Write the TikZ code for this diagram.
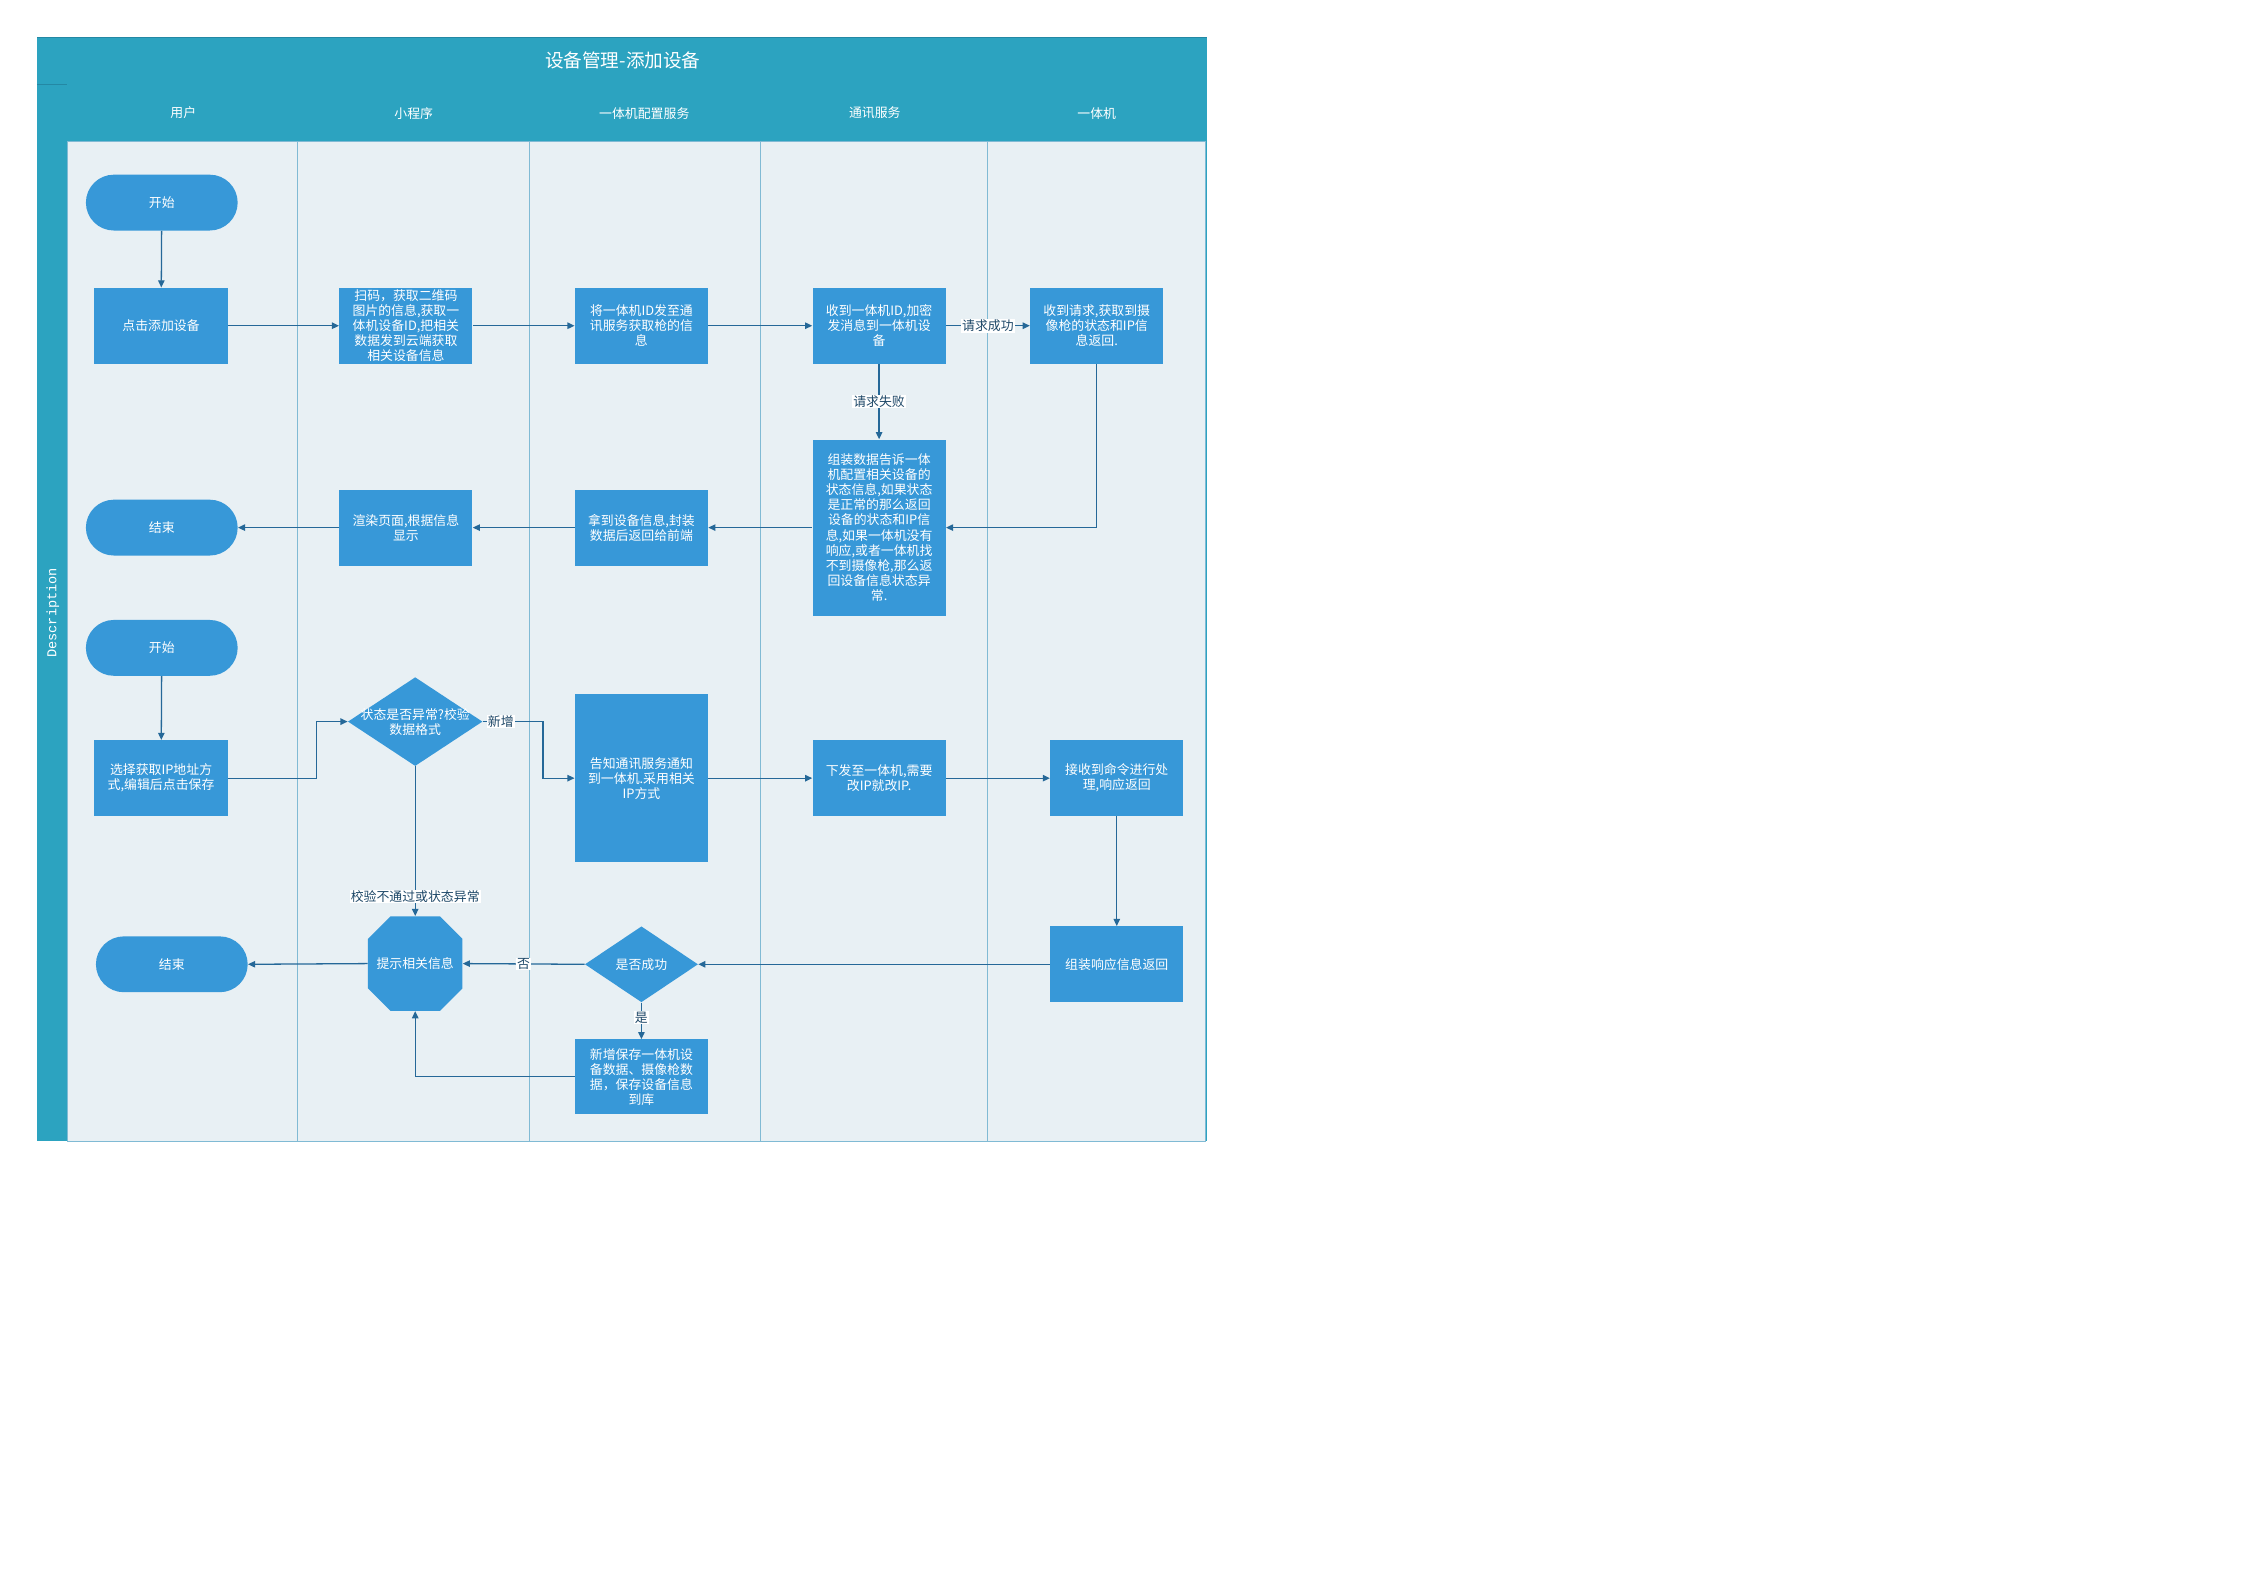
\documentclass[tikz,border=0pt]{standalone}
\usepackage{fontspec}
\setmainfont{Noto Sans CJK SC}
\newfontfamily\descfont{Liberation Mono}
\usepackage{tikz}
\usetikzlibrary{calc, positioning, arrows.meta, shapes.geometric, shapes.misc}
\definecolor{LaneTeal}{RGB}{44,163,192}
\definecolor{LaneEdge}{RGB}{36,136,164}
\definecolor{LaneBack}{RGB}{232,240,244}
\definecolor{LaneLine}{RGB}{128,186,212}
\definecolor{BoxBlue}{RGB}{55,152,216}
\definecolor{FlowInk}{RGB}{37,104,152}
\definecolor{LabelInk}{RGB}{30,72,104}

\begin{document}
\begin{tikzpicture}[
  x=1pt, y=-1pt,
  font=\fontsize{9}{10.5}\selectfont,
  box/.style={fill=BoxBlue, text=white, align=center, minimum width=93pt,
    minimum height=53pt, inner sep=1pt},
  terminal/.style={fill=BoxBlue, text=white, rounded corners=19.5pt,
    minimum width=106pt, minimum height=39pt},
  decision/.style={diamond, fill=BoxBlue, inner sep=0pt},
  notice/.style={chamfered rectangle, fill=BoxBlue, text=white, inner sep=0pt,
    chamfered rectangle xsep=11.5pt, chamfered rectangle ysep=11.5pt,
    minimum width=66pt, minimum height=66pt},
  lanehead/.style={text=white},
  edgelabel/.style={fill=white, text=LabelInk, inner sep=0.6pt},
  flow/.style={draw=FlowInk, line width=0.9pt, -{Triangle[length=5pt,width=4.5pt]}}
]
\useasboundingbox[fill=white] (0,0) rectangle (1568,1108);

\fill[LaneTeal] (26,26) rectangle (843,797);
\draw[LaneEdge, line width=0.8pt] (26,26) -- (843,26);
\draw[LaneEdge, line width=0.6pt] (26,59) -- (47,59);
\fill[LaneBack] (47,99) rectangle (842,797);
\foreach \x in {208,370,531,690}
  \draw[LaneLine, line width=0.7pt] (\x,99) -- (\x,797);
\draw[LaneLine, line width=0.7pt] (47,99) rectangle (842,797);

\node[lanehead, font=\fontsize{13}{13}\selectfont] (title) at (435,42) {设备管理-添加设备};
\node[lanehead] (hduser) at (128,79) {用户};
\node[lanehead] (hdapp) at (289,79) {小程序};
\node[lanehead] (hdconf) at (450,79) {一体机配置服务};
\node[lanehead] (hdcomm) at (611,79) {通讯服务};
\node[lanehead] (hddev) at (766,79) {一体机};
\node[lanehead, rotate=90, font=\descfont\fontsize{9.5}{10}\selectfont] (desc) at (37,428) {Description};

\node[terminal] (startA) at (113,141.5) {开始};
\node[box] (add) at (112.5,227.5) {点击添加设备};
\node[box] (scan) at (283.5,227.5) {扫码，获取二维码\\图片的信息,获取一\\体机设备ID,把相关\\数据发到云端获取\\相关设备信息};
\node[box] (send) at (448,227.5) {将一体机ID发至通\\讯服务获取枪的信\\息};
\node[box] (recv) at (614,227.5) {收到一体机ID,加密\\发消息到一体机设\\备};
\node[box] (req) at (766,227.5) {收到请求,获取到摄\\像枪的状态和IP信\\息返回.};
\node[box, minimum height=123pt] (pack) at (614,368.5) {组装数据告诉一体\\机配置相关设备的\\状态信息,如果状态\\是正常的那么返回\\设备的状态和IP信\\息,如果一体机没有\\响应,或者一体机找\\不到摄像枪,那么返\\回设备信息状态异\\常.};
\node[box] (got) at (448,368.5) {拿到设备信息,封装\\数据后返回给前端};
\node[box] (render) at (283.5,368.5) {渲染页面,根据信息\\显示};
\node[terminal] (endA) at (113,368.5) {结束};

\node[terminal] (startB) at (113,452.5) {开始};
\node[box] (pick) at (112.5,543.5) {选择获取IP地址方\\式,编辑后点击保存};
\node[decision, minimum width=94pt, minimum height=62pt,
  label={[text=white, align=center]center:状态是否异常?校验\\数据格式}] (check) at (290,504) {};
\node[box, minimum height=117pt] (notify) at (448,543.5) {告知通讯服务通知\\到一体机.采用相关\\IP方式};
\node[box] (issue) at (614,543.5) {下发至一体机,需要\\改IP就改IP.};
\node[box] (exec) at (780,543.5) {接收到命令进行处\\理,响应返回};
\node[box] (resp) at (780,673.5) {组装响应信息返回};
\node[decision, minimum width=79pt, minimum height=53pt,
  label={[text=white]center:是否成功}] (ok) at (448,673.5) {};
\node[notice] (tip) at (290,673) {提示相关信息};
\node[terminal] (endB) at (120,673.5) {结束};
\node[box, minimum height=52pt] (save) at (448,752) {新增保存一体机设\\备数据、摄像枪数\\据，保存设备信息\\到库};

\draw[flow] (startA) -- (add);
\draw[flow] (add) -- (scan);
\draw[flow] (scan) -- (send);
\draw[flow] (send) -- (recv);
\draw[flow] (recv) -- node[edgelabel] {请求成功} (req);
\draw[flow] (recv) -- node[edgelabel] {请求失败} (pack);
\draw[flow] (req.south) |- (pack.east);
\draw[flow] (pack.west |- got) -- (got);
\draw[flow] (got) -- (render);
\draw[flow] (render) -- (endA);

\draw[flow] (startB) -- (pick);
\draw[flow] (pick.east) -- ++(62,0) |- (check.west);
\draw[flow] (check.east) -- node[edgelabel, pos=0.3] {新增} ++(42,0) |- (notify.west);
\draw[flow] (check.south) -- node[edgelabel, pos=0.87] {校验不通过或状态异常} (tip.north);
\draw[flow] (notify.east |- issue) -- (issue);
\draw[flow] (issue) -- (exec);
\draw[flow] (exec) -- (resp);
\draw[flow] (resp) -- (ok.east);
\draw[flow] (ok.west) -- node[edgelabel, pos=0.5] {否} (tip.east);
\draw[flow] (ok.south) -- node[edgelabel, pos=0.42] {是} (save.north);
\draw[flow] (save.west) -| (tip.south);
\draw[flow] (tip.west) -- (endB.east);
\end{tikzpicture}
\end{document}
